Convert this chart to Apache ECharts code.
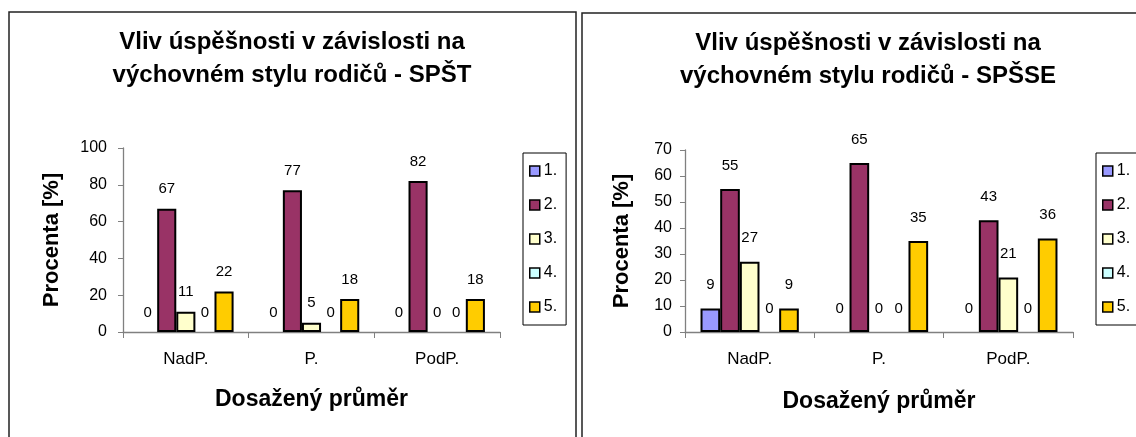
<!DOCTYPE html>
<html>
<head>
<meta charset="utf-8">
<script src="https://cdn.jsdelivr.net/npm/echarts@6/dist/echarts.min.js"></script>
<style>
  html, body { margin: 0; padding: 0; background: #fff; }
  #chart { width: 1136px; height: 437px; }
</style>
</head>
<body>
<div id="chart"></div>
<script>
// kategorie na ose X
const categories = ['NadP.', 'P.', 'PodP.']
// legenda
const seriesNames = ['1.', '2.', '3.', '4.', '5.']
// hodnoty SPŠT, jedna řada na styl
const spstValues = [
  [0, 0, 0],
  [67, 77, 82],
  [11, 5, 0],
  [0, 0, 0],
  [22, 18, 18]
]
// hodnoty SPŠSE
const spsseValues = [
  [9, 0, 0],
  [55, 65, 43],
  [27, 0, 21],
  [0, 0, 0],
  [9, 35, 36]
]
const spstTicks = { min: 0, max: 100, interval: 20 }
const spsseTicks = { min: 0, max: 70, interval: 10 }

const colors = ['#9999ff', '#993366', '#ffffcc', '#ccffff', '#ffcc00']
const font = 'Arial, "Liberation Sans", sans-serif'

const myChart = echarts.init(document.getElementById('chart'))

function makeSeries(values, gridIndex, labelDistance) {
  return values.map((row, i) => ({
    name: seriesNames[i],
    type: 'bar',
    xAxisIndex: gridIndex,
    yAxisIndex: gridIndex,
    barGap: '0%',
    barCategoryGap: '24%',
    itemStyle: { color: colors[i], borderColor: '#000', borderWidth: 2 },
    label: {
      show: true,
      position: 'top',
      distance: labelDistance,
      color: '#000',
      fontSize: 15,
      fontFamily: font
    },
    // nulové sloupce bez obrysu
    data: row.map(v => (v === 0 ? { value: 0, itemStyle: { borderWidth: 0 } } : v))
  }))
}

function makeXAxis(gridIndex, nameGap) {
  return {
    type: 'category',
    gridIndex: gridIndex,
    data: categories,
    name: 'Dosažený průměr',
    nameLocation: 'middle',
    nameGap: nameGap,
    nameTextStyle: { fontSize: 23, fontWeight: 'bold', color: '#000', fontFamily: font },
    axisLine: { lineStyle: { color: '#808080', width: 1.3 } },
    axisTick: { show: true, length: 6, lineStyle: { color: '#808080' } },
    axisLabel: { color: '#000', fontSize: 17, margin: 19, fontFamily: font },
    splitLine: { show: false }
  }
}

function makeYAxis(gridIndex, ticks, nameGap, labelMargin) {
  return {
    type: 'value',
    gridIndex: gridIndex,
    min: ticks.min,
    max: ticks.max,
    interval: ticks.interval,
    name: 'Procenta [%]',
    nameLocation: 'middle',
    nameGap: nameGap,
    nameTextStyle: { fontSize: 22, fontWeight: 'bold', color: '#000', fontFamily: font },
    axisLine: { show: true, lineStyle: { color: '#808080', width: 1.3 } },
    axisTick: { show: true, length: 5, lineStyle: { color: '#808080' } },
    axisLabel: { color: '#000', fontSize: 16, margin: labelMargin, fontFamily: font },
    splitLine: { show: false }
  }
}

function makeLegend(left) {
  return {
    orient: 'vertical',
    left: left,
    top: 153,
    data: seriesNames,
    icon: 'rect',
    itemWidth: 10,
    itemHeight: 10,
    itemGap: 18,
    padding: [10, 9, 10, 6],
    borderColor: '#000',
    borderWidth: 1,
    selectedMode: false,
    itemStyle: { borderColor: '#000', borderWidth: 1.5 },
    textStyle: { fontSize: 16, color: '#000', fontFamily: font, padding: [0, 0, 0, -1] }
  }
}

const titleStyle = {
  fontSize: 24,
  fontWeight: 'bold',
  color: '#000',
  lineHeight: 33,
  fontFamily: font
}

let option = {
  animation: false,
  title: [
    {
      text: 'Vliv úspěšnosti v závislosti na\nvýchovném stylu rodičů - SPŠT',
      left: 292,
      top: 26,
      padding: 0,
      textAlign: 'center',
      textStyle: titleStyle
    },
    {
      text: 'Vliv úspěšnosti v závislosti na\nvýchovném stylu rodičů - SPŠSE',
      left: 868,
      top: 27,
      padding: 0,
      textAlign: 'center',
      textStyle: titleStyle
    }
  ],
  // rámečky obou grafů
  graphic: [
    {
      type: 'rect',
      shape: { x: 9, y: 12, width: 567, height: 440 },
      style: { fill: 'none', stroke: '#222', lineWidth: 1.5 }
    },
    {
      type: 'rect',
      shape: { x: 582, y: 13, width: 600, height: 440 },
      style: { fill: 'none', stroke: '#222', lineWidth: 1.5 }
    }
  ],
  legend: [makeLegend(523), makeLegend(1096)],
  grid: [
    { left: 123, top: 148, width: 377, height: 184 },
    { left: 685, top: 150, width: 388, height: 182 }
  ],
  xAxis: [makeXAxis(0, 56), makeXAxis(1, 58)],
  yAxis: [makeYAxis(0, spstTicks, 60, 16), makeYAxis(1, spsseTicks, 52, 13)],
  series: makeSeries(spstValues, 0, 12).concat(makeSeries(spsseValues, 1, 16))
}

myChart.setOption(option)
</script>
</body>
</html>
